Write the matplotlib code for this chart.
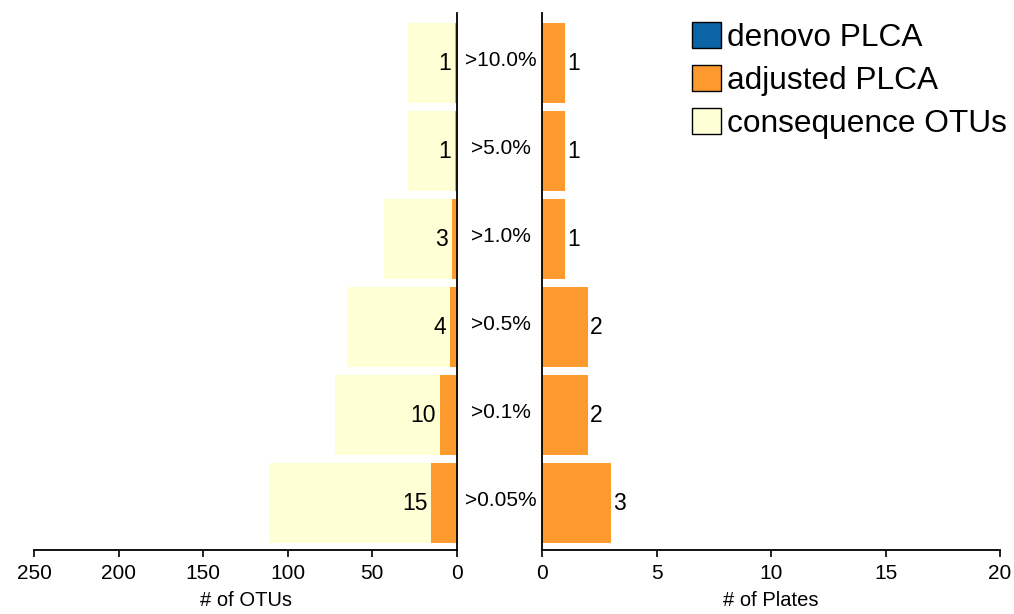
import matplotlib
matplotlib.use("Agg")
import matplotlib.pyplot as plt
from matplotlib.patches import Patch
from matplotlib.transforms import blended_transform_factory, offset_copy

plt.rcParams['font.family'] = ['Liberation Sans', 'DejaVu Sans']

# Abundance thresholds, bottom row first
thresholds = [">0.05%", ">0.1%", ">0.5%", ">1.0%", ">5.0%", ">10.0%"]
consequence_otus = [111, 72, 65, 43, 29, 29]
adjusted_otus = [15, 10, 4, 3, 1, 1]
adjusted_plates = [3, 2, 2, 1, 1, 1]

otu_ticks = [250, 200, 150, 100, 50, 0]
plate_ticks = [0, 5, 10, 15, 20]

c_denovo = "#0a64a5"
c_adjusted = "#fd9a2e"
c_conseq = "#ffffd5"

W, H = 1014, 614
fig = plt.figure(figsize=(W / 100, H / 100), dpi=100)

bottom = 64 / H
height = 537 / H
ax_l = fig.add_axes([34.3 / W, bottom, 422.5 / W, height])
ax_r = fig.add_axes([542 / W, bottom, 458 / W, height])

y = list(range(len(thresholds)))
bar_h = 0.91

# left panel: OTU counts, growing leftwards
ax_l.barh(y, consequence_otus, height=bar_h, color=c_conseq, linewidth=0)
ax_l.barh(y, adjusted_otus, height=bar_h, color=c_adjusted, linewidth=0)
ax_l.set_xlim(250, 0)
for yi, v in zip(y, adjusted_otus):
    ax_l.annotate(str(v), (v, yi), xytext=(-3, 0), textcoords="offset points",
                  ha="right", va="center", fontsize=16.5)

# right panel: plate counts
ax_r.barh(y, adjusted_plates, height=bar_h, color=c_adjusted, linewidth=0)
ax_r.set_xlim(0, 20)
for yi, v in zip(y, adjusted_plates):
    ax_r.annotate(str(v), (v, yi), xytext=(1.5, 0), textcoords="offset points",
                  ha="left", va="center", fontsize=16.5)

for ax in (ax_l, ax_r):
    ax.set_ylim(-0.53, 5.57)
    ax.set_yticks([])
    ax.spines["top"].set_visible(False)
    for s in ax.spines.values():
        s.set_linewidth(1.3)
    ax.tick_params(axis="x", direction="out", length=5, width=1.2,
                   labelsize=15, pad=5)

ax_l.spines["left"].set_visible(False)
ax_r.spines["right"].set_visible(False)
ax_l.set_xticks(otu_ticks)
ax_r.set_xticks(plate_ticks)
ax_l.set_xlabel("# of OTUs", fontsize=14.5, labelpad=6)
ax_r.set_xlabel("# of Plates", fontsize=14.5, labelpad=6)

# threshold labels between the panels
tr = blended_transform_factory(fig.transFigure, ax_r.transData)
tr = offset_copy(tr, fig=fig, x=0, y=3, units="dots")
for yi, t in zip(y, thresholds):
    fig.text(500.5 / W, yi, t, transform=tr, ha="center", va="center",
             fontsize=15)

handles = [Patch(facecolor=c_denovo, edgecolor="black", linewidth=1),
           Patch(facecolor=c_adjusted, edgecolor="black", linewidth=1),
           Patch(facecolor=c_conseq, edgecolor="black", linewidth=1)]
fig.legend(handles, ["denovo PLCA", "adjusted PLCA", "consequence OTUs"],
           loc="upper left", bbox_to_anchor=(692 / W, 1 - 22 / H),
           frameon=False, fontsize=22.8, handlelength=0.9, handleheight=0.9,
           handletextpad=0.22, labelspacing=0.38, borderpad=0,
           borderaxespad=0)

fig.savefig("out.png", dpi=100)
